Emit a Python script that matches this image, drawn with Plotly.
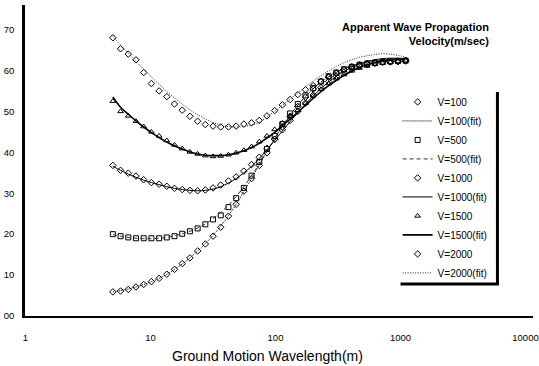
import plotly.graph_objects as go

# Ground motion wavelength (m)
wavelength = [5.00, 5.76, 6.64, 7.65, 8.82, 10.17, 11.72, 13.50, 15.56, 17.94,
              20.67, 23.83, 27.46, 31.65, 36.47, 42.04, 48.45, 55.84, 64.35, 74.16,
              85.48, 98.51, 113.5, 130.9, 150.8, 173.8, 200.3, 230.9, 266.1, 306.7,
              353.4, 407.3, 469.5, 541.1, 623.6, 718.7, 828.3, 954.6, 1100.0]

v100 = [5.9, 6.1, 6.5, 7.1, 7.7, 8.4, 9.2, 10.2, 11.4, 12.8,
        14.2, 15.9, 17.6, 19.5, 21.7, 24.4, 27.3, 30.5, 33.6, 36.8,
        39.9, 43.2, 46.2, 48.8, 51.2, 53.5, 55.5, 57.3, 58.5, 59.4,
        60.2, 60.8, 61.3, 61.6, 61.8, 62.0, 62.1, 62.2, 62.3]
v100_fit = [5.9, 6.2, 6.6, 7.1, 7.7, 8.4, 9.2, 10.2, 11.4, 12.7,
            14.2, 15.9, 17.7, 19.7, 22.0, 24.5, 27.3, 30.4, 33.6, 36.9,
            40.2, 43.4, 46.4, 49.1, 51.5, 53.6, 55.5, 57.1, 58.4, 59.5,
            60.4, 61.1, 61.6, 62.0, 62.3, 62.5, 62.6, 62.6, 62.5]

v500 = [20.0, 19.5, 19.2, 19.0, 19.0, 19.0, 19.0, 19.2, 19.5, 20.1,
        20.7, 21.4, 22.4, 23.6, 24.6, 26.6, 28.8, 31.3, 34.3, 37.6,
        40.8, 44.0, 46.9, 49.5, 51.8, 53.9, 55.7, 57.3, 58.6, 59.5,
        60.3, 60.9, 61.4, 61.7, 61.9, 62.1, 62.2, 62.3, 62.4]
v500_fit = [19.9, 19.5, 19.2, 19.0, 18.9, 18.9, 19.0, 19.2, 19.6, 20.1,
            20.7, 21.5, 22.5, 23.8, 25.3, 27.1, 29.2, 31.6, 34.3, 37.2,
            40.3, 43.4, 46.4, 49.1, 51.6, 53.7, 55.6, 57.2, 58.5, 59.6,
            60.5, 61.2, 61.7, 62.1, 62.4, 62.6, 62.7, 62.7, 62.6]

v1000 = [36.8, 35.6, 34.9, 34.2, 33.3, 32.6, 32.2, 31.7, 31.2, 30.9,
         30.7, 30.6, 30.8, 31.3, 32.0, 33.0, 34.0, 35.4, 37.0, 38.8,
         41.0, 43.2, 45.5, 47.8, 50.0, 52.0, 54.0, 55.8, 57.3, 58.6,
         59.6, 60.4, 61.0, 61.5, 61.8, 62.0, 62.1, 62.2, 62.4]
v1000_fit = [36.6, 35.6, 34.7, 33.9, 33.2, 32.6, 32.1, 31.6, 31.2, 30.9,
             30.7, 30.6, 30.7, 31.0, 31.6, 32.5, 33.6, 35.0, 36.6, 38.5,
             40.6, 42.9, 45.2, 47.5, 49.7, 51.8, 53.8, 55.6, 57.2, 58.6,
             59.8, 60.8, 61.6, 62.2, 62.6, 62.9, 63.0, 63.0, 62.9]

v1500 = [52.5, 50.0, 48.9, 47.6, 46.3, 45.0, 44.0, 42.9, 41.8, 40.9,
         40.1, 39.6, 39.2, 39.0, 39.1, 39.4, 39.9, 40.5, 41.4, 42.6,
         44.0, 45.6, 47.2, 48.8, 50.3, 52.0, 53.8, 55.4, 56.8, 58.0,
         59.0, 59.9, 60.6, 61.1, 61.5, 61.8, 62.0, 62.2, 62.4]
v1500_fit = [53.5, 51.0, 49.3, 47.7, 46.2, 44.8, 43.6, 42.5, 41.6, 40.8,
             40.1, 39.6, 39.3, 39.2, 39.2, 39.4, 39.8, 40.4, 41.2, 42.2,
             43.5, 44.9, 46.5, 48.1, 49.8, 51.5, 53.2, 54.8, 56.3, 57.6,
             58.8, 59.8, 60.7, 61.4, 61.9, 62.3, 62.6, 62.7, 62.8]

v2000 = [68.0, 65.3, 64.0, 62.6, 59.5, 56.8, 55.0, 53.6, 51.8, 50.3,
         48.8, 47.6, 46.8, 46.4, 46.2, 46.2, 46.4, 46.9, 47.2, 47.8,
         48.9, 50.2, 51.6, 52.9, 54.1, 55.3, 56.3, 57.3, 58.3, 59.3,
         60.2, 60.9, 61.4, 61.7, 61.9, 62.1, 62.2, 62.3, 62.5]
v2000_fit = [68.3, 66.2, 64.2, 62.2, 60.3, 58.4, 56.6, 54.9, 53.3, 51.8,
             50.4, 49.2, 48.2, 47.3, 46.7, 46.3, 46.2, 46.3, 46.7, 47.3,
             48.7, 50.0, 51.5, 53.0, 54.5, 56.0, 57.4, 58.7, 59.9, 61.0,
             61.9, 62.6, 63.2, 63.6, 63.9, 64.1, 64.0, 63.7, 63.2]

y_ticks = [0, 10, 20, 30, 40, 50, 60, 70]
y_ticktext = ["00", "10", "20", "30", "40", "50", "60", "70"]
x_ticks = [1, 10, 100, 1000, 10000]
x_ticktext = ["1", "10", "100", "1000", "10000"]

series = [
    ("V=100", v100, v100_fit, "diamond-open", 5, dict(color="black", width=1, dash="1px,1px")),
    ("V=500", v500, v500_fit, "square-open", 5, dict(color="#333333", width=1, dash="4px,3px")),
    ("V=1000", v1000, v1000_fit, "diamond-open", 5, dict(color="black", width=1)),
    ("V=1500", v1500, v1500_fit, "triangle-up-open", 5, dict(color="black", width=1.6)),
    ("V=2000", v2000, v2000_fit, "diamond-open", 5, dict(color="#222222", width=1, dash="1px,1.5px")),
]

fig = go.Figure()
for name, vals, fit, sym, size, line in series:
    fig.add_trace(go.Scatter(
        x=wavelength, y=vals, mode="markers", name=name,
        marker=dict(symbol=sym, size=size, color="black", line=dict(width=1, color="black")),
    ))
    fig.add_trace(go.Scatter(
        x=wavelength, y=fit, mode="lines", name=name + "(fit)",
        line=dict(shape="spline", **line),
    ))

FONT = "Liberation Sans, Arial, sans-serif"

fig.update_layout(
    width=539, height=366,
    margin=dict(l=25, r=0, t=5, b=50),
    paper_bgcolor="white", plot_bgcolor="white",
    font=dict(family=FONT, color="black", size=10),
    showlegend=True,
    legend=dict(
        x=0.7335, xanchor="left", y=0.735, yanchor="top",
        bgcolor="rgba(0,0,0,0)", borderwidth=0,
        font=dict(size=10, family=FONT, color="black"),
        traceorder="normal", itemwidth=30,
    ),
    xaxis=dict(
        type="log", range=[-0.004, 4.06],
        showgrid=False, zeroline=False,
        showline=True, linecolor="black", linewidth=2,
        tickvals=x_ticks, ticktext=x_ticktext, ticks="",
        ticklabelstandoff=12, ticklabeloverflow="allow",
        tickfont=dict(size=9.5, family=FONT, color="black"),
    ),
    yaxis=dict(
        range=[0, 76],
        showgrid=False, zeroline=False,
        showline=True, linecolor="black", linewidth=2.5,
        tickvals=y_ticks, ticktext=y_ticktext, ticks="",
        ticklabelstandoff=6,
        tickfont=dict(size=9.5, family=FONT, color="black"),
    ),
    annotations=[
        dict(text="Apparent Wave Propagation<br>Velocity(m/sec)",
             xref="paper", yref="paper", x=0.918, y=0.908,
             xanchor="right", yanchor="middle", align="right", showarrow=False,
             font=dict(size=11, family=FONT, color="black", weight="bold")),
        dict(text="Ground Motion Wavelength(m)",
             xref="paper", yref="paper", x=0.4767, y=-0.1286,
             xanchor="center", yanchor="middle", showarrow=False,
             font=dict(size=14, family=FONT, color="black")),
    ],
    shapes=[
        dict(type="line", xref="paper", yref="paper", x0=0.93, x1=0.93, y0=0.7203, y1=0.1029,
             line=dict(color="black", width=3)),
        dict(type="line", xref="paper", yref="paper", x0=0.7393, x1=0.933, y0=0.1029, y1=0.1029,
             line=dict(color="black", width=3)),
    ],
)

fig.write_html("out.html")
